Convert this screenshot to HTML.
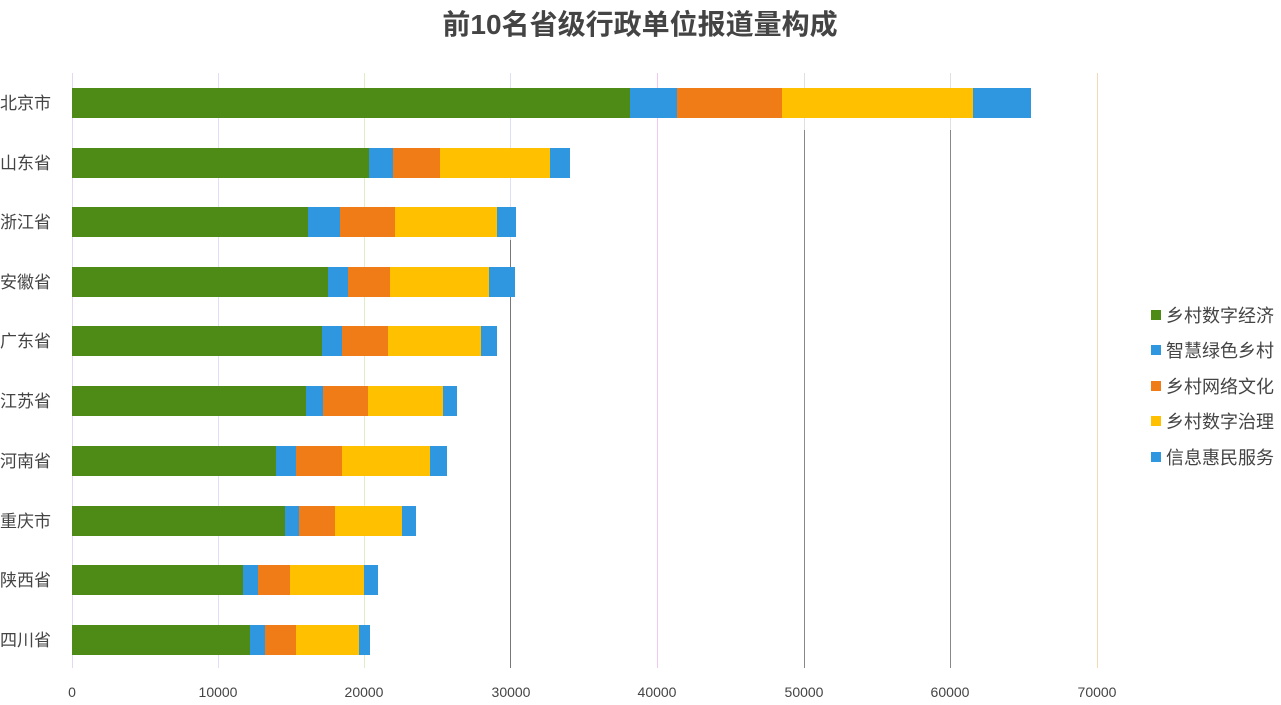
<!DOCTYPE html>
<html><head><meta charset="utf-8"><style>html,body{margin:0;padding:0;background:#fff;}svg{display:block}</style></head>
<body>
<svg width="1281" height="705" xmlns="http://www.w3.org/2000/svg" font-family="'Liberation Sans','Noto Sans CJK SC',sans-serif">
<rect width="1281" height="705" fill="#fff"/>
<text x="640" y="34" text-anchor="middle" font-size="28" font-weight="bold" fill="#444">前10名省级行政单位报道量构成</text>
<g stroke-width="1">
<line x1="72.5" y1="73" x2="72.5" y2="668" stroke="#e4d8f0"/>
<line x1="218.5" y1="73" x2="218.5" y2="668" stroke="#dfe0f5"/>
<line x1="364.5" y1="73" x2="364.5" y2="668" stroke="#e0ecc8"/>
<line x1="510.5" y1="73" x2="510.5" y2="240" stroke="#dde0f0"/>
<line x1="510.5" y1="240" x2="510.5" y2="668" stroke="#777"/>
<line x1="657.5" y1="73" x2="657.5" y2="668" stroke="#f2c8f2"/>
<line x1="804.5" y1="73" x2="804.5" y2="130" stroke="#e0e0e0"/>
<line x1="804.5" y1="130" x2="804.5" y2="668" stroke="#888"/>
<line x1="950.5" y1="73" x2="950.5" y2="130" stroke="#e0e0e0"/>
<line x1="950.5" y1="130" x2="950.5" y2="668" stroke="#888"/>
<line x1="1097.5" y1="73" x2="1097.5" y2="668" stroke="#f5d8b8"/>
</g>
<g id="bars">
<g transform="translate(0,88)"><rect x="72" width="558" height="30" fill="#4e8a16"/><rect x="630" width="47" height="30" fill="#2e97df"/><rect x="677" width="105" height="30" fill="#f07c18"/><rect x="782" width="191" height="30" fill="#ffc000"/><rect x="973" width="58" height="30" fill="#2e97df"/></g>
<g transform="translate(0,148)"><rect x="72" width="297" height="30" fill="#4e8a16"/><rect x="369" width="24" height="30" fill="#2e97df"/><rect x="393" width="47" height="30" fill="#f07c18"/><rect x="440" width="110" height="30" fill="#ffc000"/><rect x="550" width="20" height="30" fill="#2e97df"/></g>
<g transform="translate(0,207)"><rect x="72" width="236" height="30" fill="#4e8a16"/><rect x="308" width="32" height="30" fill="#2e97df"/><rect x="340" width="55" height="30" fill="#f07c18"/><rect x="395" width="102" height="30" fill="#ffc000"/><rect x="497" width="19" height="30" fill="#2e97df"/></g>
<g transform="translate(0,267)"><rect x="72" width="256" height="30" fill="#4e8a16"/><rect x="328" width="20" height="30" fill="#2e97df"/><rect x="348" width="42" height="30" fill="#f07c18"/><rect x="390" width="99" height="30" fill="#ffc000"/><rect x="489" width="26" height="30" fill="#2e97df"/></g>
<g transform="translate(0,326)"><rect x="72" width="250" height="30" fill="#4e8a16"/><rect x="322" width="20" height="30" fill="#2e97df"/><rect x="342" width="46" height="30" fill="#f07c18"/><rect x="388" width="93" height="30" fill="#ffc000"/><rect x="481" width="16" height="30" fill="#2e97df"/></g>
<g transform="translate(0,386)"><rect x="72" width="234" height="30" fill="#4e8a16"/><rect x="306" width="17" height="30" fill="#2e97df"/><rect x="323" width="45" height="30" fill="#f07c18"/><rect x="368" width="75" height="30" fill="#ffc000"/><rect x="443" width="14" height="30" fill="#2e97df"/></g>
<g transform="translate(0,446)"><rect x="72" width="204" height="30" fill="#4e8a16"/><rect x="276" width="20" height="30" fill="#2e97df"/><rect x="296" width="46" height="30" fill="#f07c18"/><rect x="342" width="88" height="30" fill="#ffc000"/><rect x="430" width="17" height="30" fill="#2e97df"/></g>
<g transform="translate(0,506)"><rect x="72" width="213" height="30" fill="#4e8a16"/><rect x="285" width="14" height="30" fill="#2e97df"/><rect x="299" width="36" height="30" fill="#f07c18"/><rect x="335" width="67" height="30" fill="#ffc000"/><rect x="402" width="14" height="30" fill="#2e97df"/></g>
<g transform="translate(0,565)"><rect x="72" width="171" height="30" fill="#4e8a16"/><rect x="243" width="15" height="30" fill="#2e97df"/><rect x="258" width="32" height="30" fill="#f07c18"/><rect x="290" width="74" height="30" fill="#ffc000"/><rect x="364" width="14" height="30" fill="#2e97df"/></g>
<g transform="translate(0,625)"><rect x="72" width="178" height="30" fill="#4e8a16"/><rect x="250" width="15" height="30" fill="#2e97df"/><rect x="265" width="31" height="30" fill="#f07c18"/><rect x="296" width="63" height="30" fill="#ffc000"/><rect x="359" width="11" height="30" fill="#2e97df"/></g>
</g>
<g font-size="17" fill="#444" text-anchor="start">
<text x="0" y="109">北京市</text><text x="0" y="169">山东省</text><text x="0" y="228">浙江省</text><text x="0" y="288">安徽省</text><text x="0" y="347">广东省</text><text x="0" y="407">江苏省</text><text x="0" y="467">河南省</text><text x="0" y="527">重庆市</text><text x="0" y="586">陕西省</text><text x="0" y="646">四川省</text>
</g>
<g font-size="14" fill="#444" text-anchor="middle">
<text x="72" y="697">0</text><text x="218" y="697">10000</text><text x="364" y="697">20000</text><text x="511" y="697">30000</text><text x="657" y="697">40000</text><text x="804" y="697">50000</text><text x="950" y="697">60000</text><text x="1097" y="697">70000</text>
</g>
<g font-size="18" fill="#444">
<rect x="1151" y="310" width="10" height="10" fill="#4e8a16"/><text x="1166" y="322">乡村数字经济</text>
<rect x="1151" y="345" width="10" height="10" fill="#2e97df"/><text x="1166" y="357">智慧绿色乡村</text>
<rect x="1151" y="381" width="10" height="10" fill="#f07c18"/><text x="1166" y="393">乡村网络文化</text>
<rect x="1151" y="416" width="10" height="10" fill="#ffc000"/><text x="1166" y="428">乡村数字治理</text>
<rect x="1151" y="452" width="10" height="10" fill="#2e97df"/><text x="1166" y="464">信息惠民服务</text>
</g>
</svg>
</body></html>
